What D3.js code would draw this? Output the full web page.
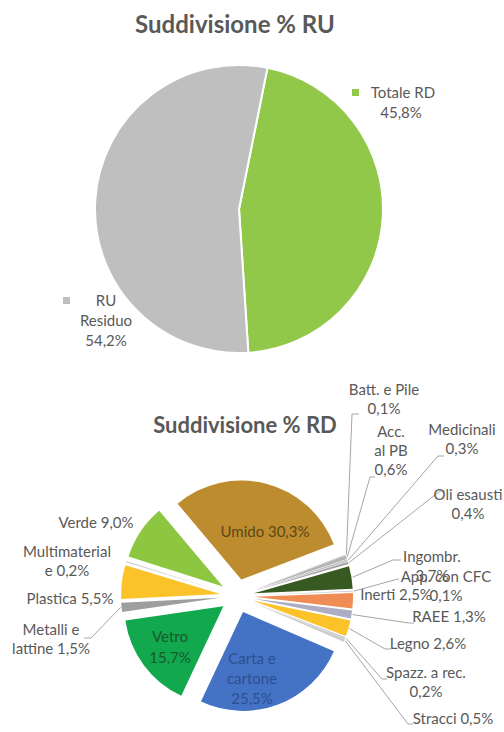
<!DOCTYPE html>
<html>
<head>
<meta charset="utf-8">
<script src="https://cdn.jsdelivr.net/npm/d3@7"></script>
<style>
  html, body { margin: 0; padding: 0; background: #fff; }
  svg { display: block; }
  text { font-family: Lato, "Open Sans", sans-serif; }
</style>
</head>
<body>
<svg id="chart" width="504" height="732"></svg>
<script>
// ---- Data: municipal waste split ----
const ruCategories = ["Totale RD", "RU Residuo"];
const ruValues = [45.8, 54.2];

const rdCategories = [
  "Umido", "Batt. e Pile", "Acc. al PB", "Medicinali", "Oli esausti",
  "Ingombr.", "App. con CFC", "Inerti", "RAEE", "Legno",
  "Spazz. a rec.", "Stracci", "Carta e cartone", "Vetro",
  "Metalli e lattine", "Plastica", "Multimaterial e", "Verde"
];
const rdValues = [
  30.3, 0.1, 0.6, 0.3, 0.4,
  3.7, 0.1, 2.5, 1.3, 2.6,
  0.2, 0.5, 25.5, 15.7,
  1.5, 5.5, 0.2, 9.0
];

// ---- Styling ----
const ruColors = { "Totale RD": "#92c84a", "RU Residuo": "#bfbfbf" };
const rdColors = {
  "Umido": "#bd8c2e", "Batt. e Pile": "#a6a6a6", "Acc. al PB": "#b3b3b3",
  "Medicinali": "#bfbfbf", "Oli esausti": "#a6a6a6", "Ingombr.": "#375a22",
  "App. con CFC": "#c0c0c0", "Inerti": "#f08d55", "RAEE": "#adadc4",
  "Legno": "#fcc22a", "Spazz. a rec.": "#c4c4c4", "Stracci": "#cccccc",
  "Carta e cartone": "#4472c4", "Vetro": "#12a84d", "Metalli e lattine": "#9e9e9e",
  "Plastica": "#fcc22a", "Multimaterial e": "#d0d0d0", "Verde": "#8dc641"
};
const labelColor = "#595959";
const fmt = v => d3.format(".1f")(v).replace(".", ",") + "%";

const svg = d3.select("#chart");

// ================= Chart 1: RU =================
svg.append("text")
  .attr("x", 235).attr("y", 33)
  .attr("text-anchor", "middle")
  .attr("font-size", 24).attr("font-weight", 700)
  .attr("fill", labelColor)
  .text("Suddivisione % RU");

const ru = { cx: 239, cy: 209, r: 144 };
const ruPie = d3.pie().sort(null).value(d => d.value)
  .startAngle(11.4 * Math.PI / 180)
  .endAngle(11.4 * Math.PI / 180 + 2 * Math.PI);
const ruData = ruPie(ruCategories.map((c, i) => ({ name: c, value: ruValues[i] })));
const ruArc = d3.arc().innerRadius(0).outerRadius(ru.r);

const g1 = svg.append("g").attr("transform", `translate(${ru.cx},${ru.cy})`);
g1.selectAll("path").data(ruData).join("path")
  .attr("d", ruArc)
  .attr("fill", d => ruColors[d.data.name])
  .attr("stroke", "#fff").attr("stroke-width", 2);

// labels with legend key squares
const ruLabelLayout = {
  "Totale RD": { x: 401, y: 98, lines: ["Totale RD", "{v}"], key: [352, 89], firstX: 403 },
  "RU Residuo": { x: 106, y: 306, lines: ["RU", "Residuo", "{v}"], key: [63, 297] }
};
ruData.forEach(d => {
  const L = ruLabelLayout[d.data.name];
  svg.append("rect")
    .attr("x", L.key[0]).attr("y", L.key[1])
    .attr("width", 7).attr("height", 7)
    .attr("fill", ruColors[d.data.name]);
  const t = svg.append("text")
    .attr("text-anchor", "middle")
    .attr("font-size", 15).attr("fill", labelColor);
  L.lines.forEach((ln, i) => {
    t.append("tspan").attr("x", i === 0 && L.firstX ? L.firstX : L.x)
      .attr("y", L.y + i * 20).text(ln.replace("{v}", fmt(d.data.value)));
  });
});

// ================= Chart 2: RD (exploded) =================
svg.append("text")
  .attr("x", 245).attr("y", 433)
  .attr("text-anchor", "middle")
  .attr("font-size", 22).attr("font-weight", 700)
  .attr("fill", labelColor)
  .text("Suddivisione % RD");

const rd = { cx: 237, cy: 596, r: 99, explode: 17 };
const rdStart = -40 * Math.PI / 180;
const rdPie = d3.pie().sort(null).value(d => d.value)
  .startAngle(rdStart).endAngle(rdStart + 2 * Math.PI);
const rdData = rdPie(rdCategories.map((c, i) => ({ name: c, value: rdValues[i] })));
const rdArc = d3.arc().innerRadius(0).outerRadius(rd.r);

const mid = d => (d.startAngle + d.endAngle) / 2;
const offset = (d, k) => [k * Math.sin(mid(d)), -k * Math.cos(mid(d))];

const g2 = svg.append("g").attr("transform", `translate(${rd.cx},${rd.cy})`);
g2.selectAll("path").data(rdData).join("path")
  .attr("transform", d => { const o = offset(d, rd.explode); return `translate(${o[0]},${o[1]})`; })
  .attr("d", rdArc)
  .attr("fill", d => rdColors[d.data.name]);

// label placement: text centre x, first baseline, lines, optional leader (elbow, end)
const rdLabelLayout = {
  "Umido":            { x: 265, y: 537, lines: ["Umido {v}"], fill: "#5a4718" },
  "Batt. e Pile":     { x: 384, y: 395, lines: ["Batt. e Pile", "{v}"], leader: [[352, 414], [359, 414]] },
  "Acc. al PB":       { x: 391, y: 437, lines: ["Acc.", "al PB", "{v}"], leader: [[370, 477], [375, 477]] },
  "Medicinali":       { x: 462, y: 435, lines: ["Medicinali", "{v}"], leader: [[438, 456], [444, 456]] },
  "Oli esausti":      { x: 468, y: 500, lines: ["Oli esausti", "{v}"], leader: [[440, 491], [445, 491]] },
  "Ingombr.":         { x: 432, y: 562, lines: ["Ingombr.", "{v}"], leader: [[393, 560], [401, 560]] },
  "App. con CFC":     { x: 446, y: 582, lines: ["App. con CFC", "{v}"], leader: [[398, 579], [399, 579]] },
  "Inerti":           { x: 396, y: 600, lines: ["Inerti {v}"] },
  "RAEE":             { x: 449, y: 622, lines: ["RAEE {v}"], leader: [[409, 623], [414, 623]] },
  "Legno":            { x: 428, y: 649, lines: ["Legno {v}"], leader: [[385, 649], [391, 649]] },
  "Spazz. a rec.":    { x: 426, y: 678, lines: ["Spazz. a rec.", "{v}"], leader: [[382, 679], [387, 679]] },
  "Stracci":          { x: 453, y: 724, lines: ["Stracci {v}"], leader: [[408, 724], [413, 724]] },
  "Carta e cartone":  { x: 252, y: 664, lines: ["Carta e", "cartone", "{v}"], fill: "#2d4f8e", lh: 20 },
  "Vetro":            { x: 170, y: 642, lines: ["Vetro", "{v}"], fill: "#17592f", lh: 21 },
  "Metalli e lattine":{ x: 51,  y: 635, lines: ["Metalli e", "lattine {v}"], leader: [[91, 638], [84, 638]] },
  "Plastica":         { x: 70,  y: 604, lines: ["Plastica {v}"] },
  "Multimaterial e":  { x: 67,  y: 557, lines: ["Multimaterial", "e {v}"] },
  "Verde":            { x: 96,  y: 528, lines: ["Verde {v}"] }
};

// leader lines from slice edge to label
const leaders = svg.append("g")
  .attr("fill", "none").attr("stroke", "#a6a6a6").attr("stroke-width", 1);
rdData.forEach(d => {
  const L = rdLabelLayout[d.data.name];
  if (!L.leader) return;
  const o = offset(d, rd.explode + rd.r + 1);
  const pts = [[rd.cx + o[0], rd.cy + o[1]], ...L.leader];
  leaders.append("path").attr("d", d3.line()(pts));
});

// label text
rdData.forEach(d => {
  const L = rdLabelLayout[d.data.name];
  const t = svg.append("text")
    .attr("text-anchor", "middle")
    .attr("font-size", 15)
    .attr("fill", L.fill || labelColor);
  L.lines.forEach((ln, i) => {
    t.append("tspan").attr("x", L.x).attr("y", L.y + i * (L.lh || 19))
      .text(ln.replace("{v}", fmt(d.data.value)));
  });
});
</script>
</body>
</html>
